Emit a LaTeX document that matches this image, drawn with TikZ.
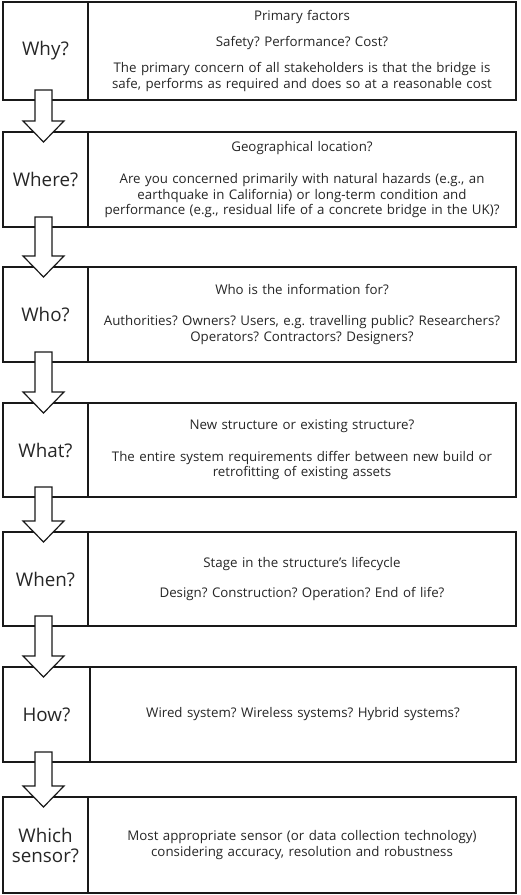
\documentclass[tikz,border=0pt]{standalone}
\usepackage{fontspec}
\setmainfont{Open Sans}
\frenchspacing
\usetikzlibrary{calc}
\tikzset{
  boxline/.style={draw=black!90, line width=1.2pt},
  labelcell/.style={boxline, rectangle, inner sep=0pt, outer sep=0pt, align=center,
    text=black!85, font=\fontsize{18.8}{20}\selectfont},
  textcell/.style={boxline, rectangle, inner sep=0pt, outer sep=0pt, align=center,
    text width=426pt, text=black!85, font=\fontsize{13.3}{15.5}\selectfont},
  rightedge/.style={draw=black!90, line width=2.2pt},
  flowarrow/.style={draw=black!90, line width=1.2pt, fill=white, line join=miter},
}
\newcommand\stagebox[6]{%
  \node[labelcell, minimum width={#4pt-3pt}, minimum height={#3pt-#2pt}, anchor=north west] (l#1) at (3, 895-#2) {#5};
  \node[textcell, minimum width={516pt-#4pt}, minimum height={#3pt-#2pt}, anchor=north west] (t#1) at (l#1.north east) {#6};
  \draw[rightedge] (t#1.north east) -- (t#1.south east);
}
\newcommand\flowarr[2]{%
  \draw[flowarrow]
    ($(l#1.south -| ax)+(-8.5,10)$) -- ($(l#2.north -| ax)+(-8.5,11)$) --
    ($(l#2.north -| ax)+(-20.5,11)$) -- ($(l#2.north -| ax)+(0,-10)$) --
    ($(l#2.north -| ax)+(20.5,11)$) -- ($(l#2.north -| ax)+(8.5,11)$) --
    ($(l#1.south -| ax)+(8.5,10)$) -- cycle;
}
\begin{document}
\begin{tikzpicture}[x=1pt, y=1pt]
\useasboundingbox[fill=white] (0,0) rectangle (520,895);
\coordinate (ax) at (43.5,0);
\stagebox{1}{2}{100}{88}{Why?}{Primary factors\\[10.5pt]Safety? Performance? Cost?\\[10.5pt]The primary concern of all stakeholders is that the bridge is\\safe, performs as required and does so at a reasonable cost}
\stagebox{2}{132}{227}{88}{Where?}{Geographical location?\\[17pt]Are you concerned primarily with natural hazards (e.g., an\\earthquake in California) or long-term condition and\\performance (e.g., residual life of a concrete bridge in the UK)?}
\stagebox{3}{267}{362}{88}{Who?}{Who is the information for?\\[16pt]Authorities? Owners? Users, e.g. travelling public? Researchers?\\Operators? Contractors? Designers?}
\stagebox{4}{403}{497}{88}{What?}{New structure or existing structure?\\[16pt]The entire system requirements differ between new build or\\retrofitting of existing assets}
\stagebox{5}{532}{626}{88}{When?}{Stage in the structure’s lifecycle\\[15pt]Design? Construction? Operation? End of life?}
\stagebox{6}{667}{762}{90}{How?}{Wired system? Wireless systems? Hybrid systems?}
\stagebox{7}{797}{893}{88}{Which\\sensor?}{Most appropriate sensor (or data collection technology)\\considering accuracy, resolution and robustness}
\flowarr{1}{2}
\flowarr{2}{3}
\flowarr{3}{4}
\flowarr{4}{5}
\flowarr{5}{6}
\flowarr{6}{7}
\end{tikzpicture}
\end{document}
